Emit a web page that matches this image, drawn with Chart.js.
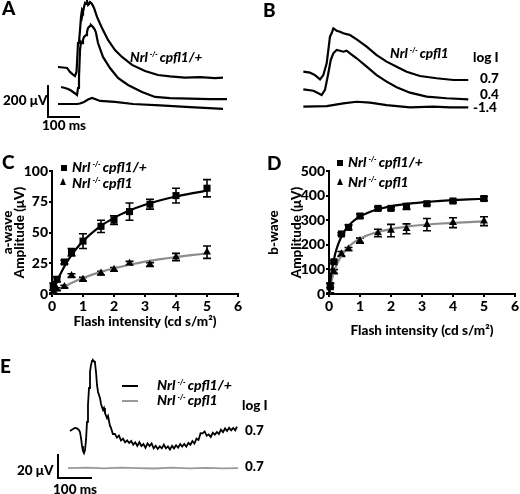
<!DOCTYPE html>
<html><head><meta charset="utf-8">
<script src="https://cdn.jsdelivr.net/npm/chart.js@4"></script>
<style>
body{margin:0;background:#fff}
#fig{position:relative;width:520px;height:494px;overflow:hidden;font-family:Lato,sans-serif;font-weight:900;color:#000}
#fig canvas{position:absolute}
.t{position:absolute;white-space:nowrap;line-height:1;font-size:13.5px}
.L{font-size:19px}
.i{font-style:italic}
.sup{font-size:0.52em;position:relative;top:-0.72em;margin:0 2px 0 2px}
.sq{position:absolute;width:6px;height:6px;background:#000}
.tri{position:absolute;width:0;height:0;border-left:3.5px solid transparent;border-right:3.5px solid transparent;border-bottom:7px solid #000}
.ln{position:absolute;height:2px;width:16px}
</style></head><body>
<div id="fig">
<canvas id="cA" width="260" height="140" style="left:0;top:0"></canvas>
<canvas id="cB" width="260" height="140" style="left:260px;top:0"></canvas>
<canvas id="cC" width="260" height="200" style="left:0;top:140px"></canvas>
<canvas id="cD" width="260" height="200" style="left:260px;top:140px"></canvas>
<canvas id="cE" width="520" height="154" style="left:0;top:340px"></canvas>

<div class="t L" style="left:2px;top:-2px">A</div>
<div class="t L" style="left:263px;top:0px">B</div>
<div class="t L" style="left:2px;top:152px">C</div>
<div class="t L" style="left:267px;top:153px">D</div>
<div class="t L" style="left:0px;top:356px">E</div>

<div class="t i" style="left:130px;top:51px">Nrl<span class="sup">-/-</span>cpfl1/+</div>
<div class="t" style="left:3px;top:94px">200 μV</div>
<div class="t" style="left:42px;top:119px">100 ms</div>

<div class="t i" style="left:390px;top:47px">Nrl<span class="sup">-/-</span>cpfl1</div>
<div class="t" style="left:473px;top:51px">log I</div>
<div class="t" style="left:480px;top:72px">0.7</div>
<div class="t" style="left:480px;top:88px">0.4</div>
<div class="t" style="left:473px;top:101px">-1.4</div>

<div class="sq" style="left:61px;top:165px"></div>
<div class="t i" style="left:72px;top:160px;font-size:14px">Nrl<span class="sup">-/-</span>cpfl1/+</div>
<div class="tri" style="left:60px;top:178px"></div>
<div class="t i" style="left:72px;top:176px;font-size:14px">Nrl<span class="sup">-/-</span>cpfl1</div>

<div class="sq" style="left:337px;top:160px"></div>
<div class="t i" style="left:348px;top:155px;font-size:14px">Nrl<span class="sup">-/-</span>cpfl1/+</div>
<div class="tri" style="left:337px;top:178px"></div>
<div class="t i" style="left:348px;top:175px;font-size:14px">Nrl<span class="sup">-/-</span>cpfl1</div>

<div class="ln" style="left:122px;top:385px;background:#000"></div>
<div class="t i" style="left:157px;top:378px;font-size:14px">Nrl<span class="sup">-/-</span>cpfl1/+</div>
<div class="ln" style="left:122px;top:400px;background:#999"></div>
<div class="t i" style="left:157px;top:393px;font-size:14px">Nrl<span class="sup">-/-</span>cpfl1</div>
<div class="t" style="left:242px;top:399px">log I</div>
<div class="t" style="left:245px;top:424px">0.7</div>
<div class="t" style="left:245px;top:460px">0.7</div>
<div class="t" style="left:17px;top:464px">20 μV</div>
<div class="t" style="left:53px;top:483px">100 ms</div>
</div>
<script>
// ---------- Panel A: Nrl-/- cpfl1/+ ERG traces (ms, μV) ----------
const msA07 = [0,15.6,28.1,37.5,46.9,53.1,57.8,59.4,62.5,65.6,68.8,71.9,75,78.1,81.3,84.4,87.5,90.6,93.8,96.9,100,106.3,112.5,121.9,137.5,156.3,178.1,200,231.3,271.9,312.5,350,396.9,443.8,490.6,515.6];
const uvA07 = [0,-3,-6,-31,-47,-56,-31,25,150,156,231,313,356,344,375,400,394,413,388,394,406,394,369,313,244,169,106,63,13,-25,-50,-59,-66,-63,-69,-66];
const msA04 = [9.4,21.9,31.3,40.6,46.9,53.1,59.4,62.5,65.6,68.8,71.9,75,78.1,81.3,84.4,87.5,90.6,93.8,96.9,100,103.1,106.3,109.4,115.6,118.8,125,140.6,162.5,187.5,218.8,262.5,303.1,350,412.5,475,528.1];
const uvA04 = [6,0,-6,-16,-25,-34,-44,0,69,238,288,281,300,319,325,331,350,375,381,388,394,388,381,363,344,281,194,125,63,19,-25,-56,-63,-66,-69,-69];
const msA14 = [0,37.5,59.4,68.8,81.3,93.8,106.3,115.6,131.3,178.1,234.4,318.8,412.5,515.6];
const uvA14 = [0,0,0,3,13,28,38,31,19,13,0,-9,-19,-31];
const offsetsA = [456.25, 325, 225];          // vertical stacking of traces (μV)
const scaleBarA = {ms:-31.25, uV:143.75, lenMs:100, lenUv:200};

// ---------- Panel B: Nrl-/- cpfl1 ERG traces ----------
const msB07 = [0,20.9,36.5,52.2,62.5,73,78.1,83.3,88.5,93.8,99,104.3,114.6,125,135.4,145.8,166.7,197.9,229.2,260.4,291.7,322.9,364.6,416.7,468.8,515.6];
const uvB07 = [0,-6,-21,-48,-21,52,135,219,240,271,265,256,250,240,235,229,202,156,104,63,31,0,-27,-41,-52,-52];
const msB04 = [0,31.3,46.9,57.3,67.7,78.1,85.6,93.8,104.3,114.6,125,135.4,145.8,166.7,197.9,229.2,260.4,291.7,333.3,385.4,447.9,515.6];
const uvB04 = [0,-9,-25,-36,-4,100,183,225,246,241,235,241,225,194,142,89,48,13,-21,-46,-56,-63];
const msB14 = [0,73,125,166.7,208.3,260.4,333.3,406.3,458.3,515.6];
const uvB14 = [0,4,21,31,25,10,-4,0,-4,-4];
const offsetsB = [426.9, 316.9, 208.1];

// ---------- Panels C & D: intensity-response ----------
const intensity = [0.04,0.16,0.4,0.63,1,1.58,2,2.5,3.16,4,5];
const aHet    = [6,12,26,34,43,55,60,67,73,80,86];
const aHetErr = [3,2,1.5,3,6,5,3.5,7,4,6,7];
const aHom    = [2,4,6,15,12,17,20,25,24,30,34];
const aHomErr = [1,1,1,1.5,1.5,1.5,1.5,1.5,1.5,3,5];
const bHet    = [34,131,244,271,317,348,348,356,367,378,388];
const bHetErr = [8,5,5,10,8,6,5,12,6,6,8];
const bHom    = [25,91,163,183,217,248,258,265,282,290,296];
const bHomErr = [20,8,10,6,10,15,25,20,25,20,18];
const fitX    = [0,0.05,0.1,0.2,0.3,0.5,0.75,1,1.5,2,2.5,3,3.5,4,4.5,5];
const aHetFit = [0,3.4,6.6,12.5,17.7,26.7,35.7,43.0,54.0,61.9,67.8,72.5,76.2,79.3,81.8,84.0];
const aHomFit = [0,0.8,1.7,3.2,4.7,7.4,10.4,13.0,17.4,20.9,23.8,26.3,28.3,30.1,31.6,33.0];
const bHetFit = [0,58.1,101.9,163.2,204.2,255.6,292.4,315.0,341.5,356.5,366.1,372.8,377.8,381.6,384.6,387.0];
const bHomFit = [0,33.9,61.3,102.9,133.0,173.5,204.8,225.0,249.7,264.2,273.7,280.5,285.5,289.4,292.5,295.0];
const xTicks = [0,1,2,3,4,5,6];

// ---------- Panel E: 0.7 log I traces ----------
const msEhet = [0,8.8,14.7,20.6,26.5,29.4,32.4,35.3,38.2,41.2,44.1,47.1,50,52.9,55.9,58.8,61.8,64.7,67.6,70.6,73.5,76.5,79.4,82.4,88.2,91.2,97.1,100,102.9,108.8,111.8,117.6,
  120,126,132,138,144,150,156,162,168,174,180,186,192,198,204,210,216,222,228,234,240,246,252,258,264,270,276,282,288,294,300,306,312,318,324,330,336,342,348,354,360,366,372,378,384,390,396,402,408,414,420,426,432,438,444,450,456,462,468,474,480,486,491];
const uvEhet = [-0.8,0.8,1.7,1.3,0,-1.7,-6.7,-13.3,-17.5,-19.2,-16.7,-8.3,6.7,20.8,35,48.3,54.2,57.5,58.3,57.5,55.8,48.3,37.5,31.7,26.7,21.7,16.7,18.3,14.2,10,11.7,3.3,
  2.3,-3.3,-3.2,-6.3,-4.7,-8.8,-7.2,-10.3,-8.7,-10.8,-9.2,-12.3,-10.2,-13.3,-10.2,-13.3,-11.7,-14.8,-11.2,-13.3,-11.2,-15.3,-13.2,-15.8,-13.7,-15.3,-12.2,-15.3,-13.7,-16.3,-13.2,-15.3,-12.7,-14.8,-11.7,-13.8,-11.7,-13.8,-10.7,-12.3,-9.2,-11.3,-7.2,-8.3,-2.7,-2.8,-1.2,-4.8,-3.7,-5.8,-2.2,-3.8,-1.7,-3.3,0.3,-1.8,1.3,-0.8,1.8,-0.3,1.8,-0.3,2.8];
const msEhom = [-5.9,50,100,150,200,250,300,350,400,450,494];
const uvEhom = [0,0.4,-0.3,0.3,0,-0.4,0.3,-0.2,0.2,-0.3,0];
const offsetsE = [0, -31.7];
const scaleBarE = {ms:-35.3, uV:-40, lenMs:100, lenUv:20};

Chart.defaults.font.family = 'Lato, sans-serif';
Chart.defaults.color = '#000';

const pts = (xs, ys, off=0) => xs.map((x,i)=>({x, y: ys[i]+off}));
const traceDs = (data, color, w) => ({data, showLine:true, pointRadius:0, borderColor:color, borderWidth:w, tension:0, clip:false});
const barDs = (b) => traceDs([{x:b.ms,y:b.uV+b.lenUv},{x:b.ms,y:b.uV},{x:b.ms+b.lenMs,y:b.uV}], '#000', 2);

function traceChart(id, xr, yr, datasets){
  return new Chart(document.getElementById(id), {
    type:'scatter', data:{datasets},
    options:{responsive:false, animation:false, events:[], layout:{padding:0},
      plugins:{legend:{display:false}, tooltip:{enabled:false}},
      scales:{x:{type:'linear', display:false, min:xr[0], max:xr[1]},
              y:{type:'linear', display:false, min:yr[0], max:yr[1]}}}
  });
}

traceChart('cA', [-181.25, 631.25], [0, 875], [
  traceDs(pts(msA07, uvA07, offsetsA[0]), '#000', 2.2),
  traceDs(pts(msA04, uvA04, offsetsA[1]), '#000', 2.2),
  traceDs(pts(msA14, uvA14, offsetsA[2]), '#000', 2.2),
  barDs(scaleBarA)
]);
traceChart('cB', [-135.4, 677.2], [0, 875], [
  traceDs(pts(msB07, uvB07, offsetsB[0]), '#000', 2.2),
  traceDs(pts(msB04, uvB04, offsetsB[1]), '#000', 2.2),
  traceDs(pts(msB14, uvB14, offsetsB[2]), '#000', 2.2)
]);
traceChart('cE', [-205.9, 1323.5], [-53.33, 75], [
  traceDs(pts(msEhet, uvEhet, offsetsE[0]), '#000', 1.8),
  traceDs(pts(msEhom, uvEhom, offsetsE[1]), '#999', 1.8),
  barDs(scaleBarE)
]);

const errorBars = {
  id:'errorBars',
  beforeDatasetsDraw(chart){
    const {ctx} = chart, xs = chart.scales.x, ys = chart.scales.y;
    chart.data.datasets.forEach(ds=>{
      if(!ds.errors) return;
      ctx.save(); ctx.strokeStyle='#000'; ctx.lineWidth=1.6;
      ds.data.forEach((p,j)=>{
        const e = ds.errors[j]; const x = xs.getPixelForValue(p.x);
        const y1 = ys.getPixelForValue(p.y+e), y2 = ys.getPixelForValue(p.y-e);
        ctx.beginPath();
        ctx.moveTo(x,y1); ctx.lineTo(x,y2);
        ctx.moveTo(x-4,y1); ctx.lineTo(x+4,y1);
        ctx.moveTo(x-4,y2); ctx.lineTo(x+4,y2);
        ctx.stroke();
      });
      ctx.restore();
    });
  }
};

function doseChart(id, p){
  const tickFont = {size:14, weight:'900', family:'Lato, sans-serif'};
  const titleFont = {size:13.5, weight:'900', family:'Lato, sans-serif'};
  return new Chart(document.getElementById(id), {
    type:'scatter',
    data:{datasets:[
      {data:pts(intensity,p.het), pointStyle:'rect', pointRadius:5, backgroundColor:'#000', borderWidth:0, errors:p.hetErr, clip:false},
      {data:pts(intensity,p.hom), pointStyle:'triangle', pointRadius:4.6, backgroundColor:'#000', borderWidth:0, errors:p.homErr, clip:false},
      {data:pts(fitX,p.hetFit), showLine:true, pointRadius:0, borderColor:'#000', borderWidth:2.2, cubicInterpolationMode:'monotone', clip:false},
      {data:pts(fitX,p.homFit), showLine:true, pointRadius:0, borderColor:'#8c8c8c', borderWidth:2.2, cubicInterpolationMode:'monotone', clip:false}
    ]},
    options:{responsive:false, animation:false, events:[],
      layout:{padding:{top:31, left:0, right:p.padR, bottom:0}},
      plugins:{legend:{display:false}, tooltip:{enabled:false}},
      scales:{
        x:{type:'linear', min:0, max:6,
           afterBuildTicks(s){ s.ticks = xTicks.map(v=>({value:v})); },
           ticks:{font:tickFont, color:'#000', padding:1, maxRotation:0},
           grid:{drawOnChartArea:false, drawTicks:true, tickLength:3, color:'#000', lineWidth:2},
           border:{color:'#000', width:2},
           title:{display:true, text:'Flash intensity (cd s/m²)', font:titleFont, color:'#000', padding:{top:0, bottom:p.xTitlePad}},
           afterFit(s){ s.height = 46; s.paddingLeft = 0; s.paddingRight = 0; }},
        y:{type:'linear', min:0, max:p.yMax,
           ticks:{stepSize:p.yStep, font:tickFont, color:'#000', padding:1},
           grid:{drawOnChartArea:false, drawTicks:true, tickLength:3, color:'#000', lineWidth:2},
           border:{color:'#000', width:2},
           title:{display:true, text:p.yTitle, font:{...titleFont, lineHeight:p.yTitleLH}, color:'#000', padding:{top:2, bottom:0}},
           afterFit(s){ s.width = p.yWidth; s.paddingTop = 0; s.paddingBottom = 0; }}
      }},
    plugins:[errorBars]
  });
}

doseChart('cC', {het:aHet, hetErr:aHetErr, hom:aHom, homErr:aHomErr, hetFit:aHetFit, homFit:aHomFit,
  yMax:100, yStep:25, yTitle:['a-wave','Amplitude (μV)'], yTitleLH:0.88, yWidth:52, padR:22, xTitlePad:10});
doseChart('cD', {het:bHet, hetErr:bHetErr, hom:bHom, homErr:bHomErr, hetFit:bHetFit, homFit:bHomFit,
  yMax:500, yStep:100, yTitle:['b-wave','Amplitude (μV)'], yTitleLH:1.7, yWidth:69, padR:3, xTitlePad:1});
</script>
</body></html>
